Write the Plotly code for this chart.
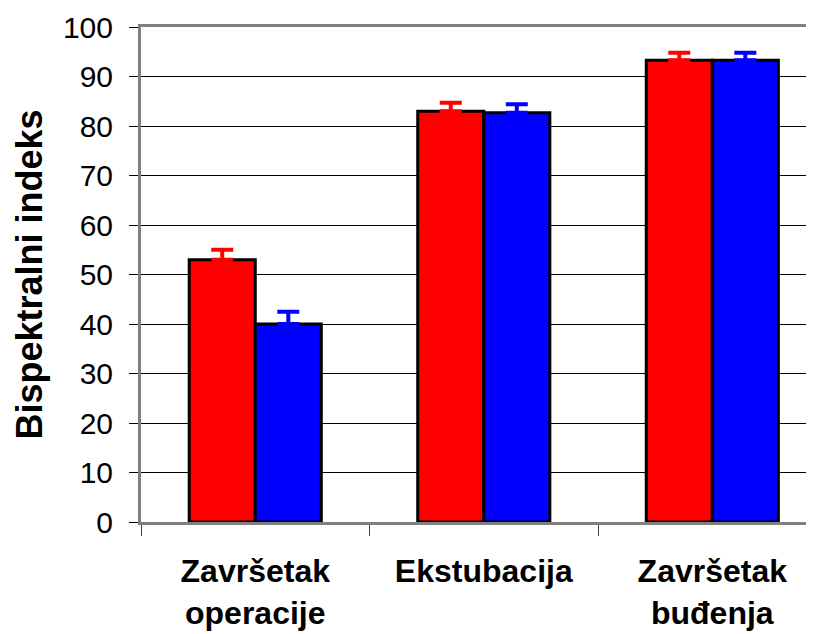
import plotly.graph_objects as go

categories = ["<b>Završetak</b><br><b>operacije</b>", "<b>Ekstubacija</b>", "<b>Završetak</b><br><b>buđenja</b>"]
red_values = [53, 83, 93.3]
red_errors = [2, 1.7, 1.5]
blue_values = [40, 82.7, 93.3]
blue_errors = [2.5, 1.7, 1.5]
y_ticks = list(range(0, 101, 10))

fig = go.Figure()

for vals, errs, color in [(red_values, red_errors, "#FF0000"),
                          (blue_values, blue_errors, "#0000FF")]:
    fig.add_trace(go.Bar(
        x=categories,
        y=vals,
        marker=dict(color=color, line=dict(color="black", width=3)),
        error_y=dict(type="data", array=errs, arrayminus=[0] * len(errs),
                     symmetric=False, color=color, thickness=4, width=11),
        showlegend=False,
        hoverinfo="skip",
    ))

# page body has an 8px margin, so the figure is offset by 8px
fig.update_layout(
    width=806,
    height=626,
    barmode="group",
    bargap=0.422,
    bargroupgap=0,
    plot_bgcolor="white",
    paper_bgcolor="white",
    margin=dict(l=133, r=0, t=19, b=112),
    font=dict(family="Liberation Sans, Arial, sans-serif", color="black"),
    xaxis=dict(
        range=[-0.5, 2.445],
        showgrid=False,
        showline=True,
        linecolor="#808080",
        linewidth=3,
        mirror=True,
        ticks="outside",
        tickson="boundaries",
        ticklen=11,
        tickcolor="#404040",
        tickwidth=1,
        tickfont=dict(size=32),
        ticklabelstandoff=19,
        tickangle=0,
    ),
    yaxis=dict(
        range=[0, 100],
        tickvals=y_ticks,
        showgrid=True,
        gridcolor="black",
        gridwidth=1,
        zeroline=False,
        showline=True,
        linecolor="#808080",
        linewidth=3,
        ticks="outside",
        ticklen=9,
        tickcolor="black",
        tickwidth=1,
        tickfont=dict(size=30),
        ticklabelstandoff=10,
        title=dict(text="<b>Bispektralni indeks</b>", font=dict(size=36), standoff=10),
    ),
)

fig.write_html("out.html")
